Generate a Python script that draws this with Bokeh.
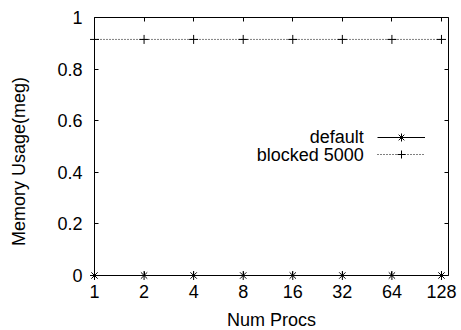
import numpy as np
from bokeh.plotting import figure
from bokeh.models import (Range1d, FixedTicker, LogAxis, LinearAxis, CustomJSTickFormatter,
                          BasicTickFormatter, Legend, LegendItem, Label)
from bokeh.embed import file_html
from bokeh.resources import INLINE

# ---- data ----
procs = [1, 2, 4, 8, 16, 32, 64, 128]
x_tick_labels = ["1", "2", "4", "8", "16", "32", "64", "128"]
default_mem = [0, 0, 0, 0, 0, 0, 0, 0]
blocked_mem = [0.915, 0.915, 0.915, 0.915, 0.915, 0.915, 0.915, 0.915]
y_ticks = [0, 0.2, 0.4, 0.6, 0.8, 1.0]
y_tick_labels = ["0", "0.2", "0.4", "0.6", "0.8", "1"]
series_labels = ["default", "blocked 5000"]
x_title = "Num Procs"
y_title = "Memory Usage(meg)"

FONT = "Liberation Sans"
FS = "18px"

p = figure(
    x_axis_type="log",
    x_range=Range1d(1, 141.2), y_range=Range1d(0, 1),
    frame_width=354, frame_height=258,
    min_border_left=94, min_border_right=13, min_border_top=17, min_border_bottom=55,
    x_axis_location=None, y_axis_location=None,
    output_backend="svg", toolbar_location=None,
)
p.outline_line_color = "black"
p.outline_line_width = 1
p.background_fill_color = "white"
p.border_fill_color = "white"
p.grid.visible = False


def style_axis(ax, show_labels):
    ax.axis_line_color = None
    ax.major_tick_line_color = "black"
    ax.major_tick_line_width = 1
    ax.major_tick_in = 4
    ax.major_tick_out = 0
    ax.minor_tick_in = 0
    ax.minor_tick_out = 0
    ax.major_label_text_font = FONT
    ax.major_label_text_font_size = FS if show_labels else "0px"
    ax.major_label_text_color = "black"
    ax.axis_label_text_font = FONT
    ax.axis_label_text_font_size = FS
    ax.axis_label_text_font_style = "normal"
    ax.axis_label_text_color = "black"


bottom = LogAxis(ticker=FixedTicker(ticks=procs), formatter=BasicTickFormatter(),
                 major_label_overrides=dict(zip(procs, x_tick_labels)),
                 major_label_standoff=9, axis_label=x_title, axis_label_standoff=9)
top = LogAxis(ticker=FixedTicker(ticks=procs), formatter=CustomJSTickFormatter(code="return ''"),
              major_label_standoff=0)
left = LinearAxis(ticker=FixedTicker(ticks=y_ticks),
                  major_label_overrides=dict(zip(y_ticks, y_tick_labels)),
                  major_label_standoff=12)
right = LinearAxis(ticker=FixedTicker(ticks=y_ticks), formatter=CustomJSTickFormatter(code="return ''"),
                   major_label_standoff=0)
style_axis(bottom, True)
style_axis(top, False)
style_axis(left, True)
style_axis(right, False)
p.add_layout(bottom, "below")
p.add_layout(top, "above")
p.add_layout(left, "left")
p.add_layout(right, "right")

# y title as a label in the left side panel (positioned along the frame height)
p.add_layout(Label(x=-16, y=114, x_units="screen", y_units="screen", text=y_title,
                   angle=np.pi / 2, text_align="center", text_baseline="middle",
                   text_font=FONT, text_font_size=FS, text_color="black"), "left")

# ---- series (overlay level so border markers are not cut by the frame) ----
line_def = p.line(procs, default_mem, line_color="black", line_width=1, level="overlay")
star_a = p.scatter(procs, default_mem, marker="cross", size=9, line_color="black",
                   line_width=1, level="overlay")
star_b = p.scatter(procs, default_mem, marker="x", size=9, line_color="black",
                   line_width=1, level="overlay")
line_blk = p.line(procs, blocked_mem, line_color="black", line_width=1, line_dash="1 2",
                  level="overlay")
plus_blk = p.scatter(procs, blocked_mem, marker="cross", size=9, line_color="black",
                     line_width=1, level="overlay")

# ---- legend: samples via Legend, texts right-aligned to their left ----
legend_rows = [
    (series_labels[0], [line_def, star_a, star_b], 138.3),
    (series_labels[1], [line_blk, plus_blk], 120.7),
]
for lab, rends, yc in legend_rows:
    lg = Legend(items=[LegendItem(label=" ", renderers=rends)], location=(283, yc - 10),
                orientation="vertical", glyph_width=48, glyph_height=20,
                label_height=0, label_width=0, label_standoff=0,
                label_text_font=FONT, label_text_font_size="1px",
                padding=0, margin=0, spacing=0,
                border_line_color=None, background_fill_alpha=0)
    p.add_layout(lg, "center")
    p.add_layout(Label(x=269.3, y=yc, x_units="screen", y_units="screen", text=lab,
                       text_align="right", text_baseline="middle",
                       text_font=FONT, text_font_size=FS, text_color="black"))

open("out.html", "w").write(file_html(p, INLINE))
